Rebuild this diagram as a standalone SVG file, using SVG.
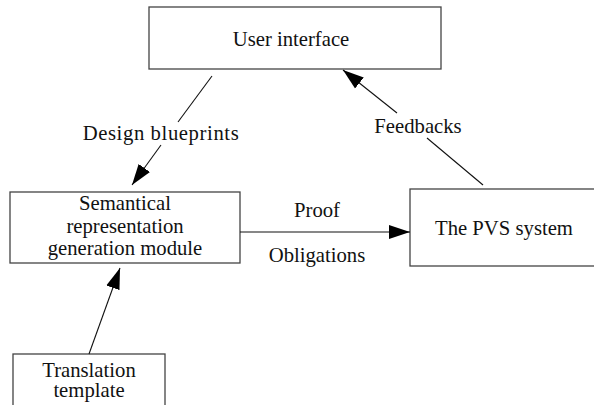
<svg xmlns="http://www.w3.org/2000/svg" width="594" height="405" viewBox="0 0 594 405">
  <defs>
    <marker id="arr" markerUnits="userSpaceOnUse" markerWidth="22" markerHeight="16" viewBox="0 0 22 16" refX="21" refY="8" orient="auto">
      <path d="M0,1 L21,8 L0,15 Z" fill="#000"/>
    </marker>
    <style>
      .box { fill: #fff; stroke: #444; stroke-width: 1.3; }
      .t { font-family: "Liberation Serif", "Times New Roman", serif; font-size: 20.7px; fill: #111; text-anchor: middle; }
      .ln { stroke: #111; stroke-width: 1.1; fill: none; }
    </style>
  </defs>
  <rect width="594" height="405" fill="#fff"/>

  <g id="user-interface">
    <rect class="box" x="149" y="7" width="292" height="62"/>
    <text class="t" x="291" y="46">User interface</text>
  </g>

  <g id="semantical">
    <rect class="box" x="10" y="192" width="230" height="71"/>
    <text class="t" x="125" y="210">Semantical</text>
    <text class="t" x="125" y="233">representation</text>
    <text class="t" x="125" y="255">generation module</text>
  </g>

  <g id="pvs">
    <rect class="box" x="410" y="189" width="200" height="77"/>
    <text class="t" x="504" y="235">The PVS system</text>
  </g>

  <g id="translation">
    <rect class="box" x="13" y="354" width="152" height="70"/>
    <text class="t" x="89" y="377">Translation</text>
    <text class="t" x="89" y="397">template</text>
  </g>

  <g id="connectors">
    <line class="ln" x1="212" y1="76" x2="178" y2="122"/>
    <line class="ln" x1="161" y1="145" x2="132" y2="185" marker-end="url(#arr)"/>
    <text class="t" x="161" y="140" style="letter-spacing:0.6px">Design blueprints</text>

    <line class="ln" x1="483" y1="185" x2="427" y2="138"/>
    <line class="ln" x1="397" y1="113" x2="343" y2="70" marker-end="url(#arr)"/>
    <text class="t" x="418" y="133">Feedbacks</text>

    <line class="ln" x1="240" y1="232" x2="410" y2="232" marker-end="url(#arr)"/>
    <text class="t" x="317" y="217">Proof</text>
    <text class="t" x="317" y="262">Obligations</text>

    <line class="ln" x1="89" y1="354" x2="120" y2="268" marker-end="url(#arr)"/>
  </g>
</svg>
